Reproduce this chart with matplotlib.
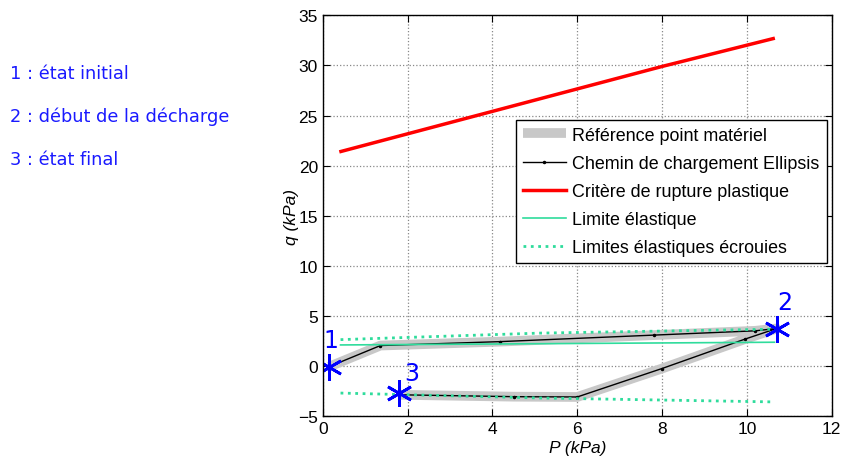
import matplotlib
matplotlib.use('Agg')
import matplotlib.pyplot as plt
import numpy             as np

# ------------------------------------------------------------------------------
# values
path_p      = [0.15, 1.36, 4.17, 7.8, 10.2, 10.7, 9.96, 8.0,  6.0,   4.5,   1.79]
path_q      = [-0.05, 2.06, 2.45, 3.1, 3.53, 3.76, 2.71, -0.23, -3.07, -3.04, -2.85]

crit_p      = [0.43,  4.0,   8.0,   10.62]
crit_q      = [21.42, 25.42, 29.9,  32.68]

elas_p      = [0.42, 10.65]
elas_q      = [2.12, 2.39]

upper_p     = [0.42, 5.1,  10.6]
upper_q     = [2.65, 3.3,  3.69]
lower_p     = [0.42, 5.1,  10.6]
lower_q     = [-2.68, -3.17, -3.56]

state_p     = [0.15, 10.7, 1.79]
state_q     = [-0.05, 3.76, -2.68]
state_names = ['1', '2', '3']

notes       = ['1 : état initial',
               '2 : début de la décharge',
               '3 : état final']

legend_txt  = ['Référence point matériel',
               'Chemin de chargement Ellipsis',
               'Critère de rupture plastique',
               'Limite élastique',
               'Limites élastiques écrouies']

BLUE  = '#1a1aff'
GREEN = '#2fdc9c'


# ------------------------------------------------------------------------------
#
def main():

    plt.rcParams['font.family'] = ['Liberation Sans', 'DejaVu Sans']

    fig = plt.figure(figsize=(8.42, 4.64), dpi=100)
    ax  = fig.add_axes([0.3833, 0.1006, 0.6045, 0.8642])

    ax.plot(path_p, path_q, '-', color='#c8c8c8', lw=7, solid_joinstyle='round',
            solid_capstyle='butt', label=legend_txt[0])
    ax.plot(path_p, path_q, '-', color='black', lw=1, marker='.', ms=3,
            label=legend_txt[1])
    ax.plot(crit_p, crit_q, '-', color='red', lw=2.5, label=legend_txt[2])
    ax.plot(elas_p, elas_q, '-', color=GREEN, lw=1.2, label=legend_txt[3])
    ax.plot(upper_p, upper_q, ':', color=GREEN, lw=2, label=legend_txt[4])
    ax.plot(lower_p, lower_q, ':', color=GREEN, lw=2)

    ax.plot(state_p, state_q, ls='none', marker=(6, 2, 0), ms=19, mew=2,
            color='blue')
    offs = [(0.04, 1.5), (0.2, 1.4), (0.3, 0.85)]
    for p, q, name, (dx, dy) in zip(state_p, state_q, state_names, offs):
        ax.text(p + dx, q + dy, name, color='blue', fontsize=17,
                family='DejaVu Sans', ha='center', va='bottom')

    ax.set_xlim(0, 12)
    ax.set_ylim(-5, 35)
    ax.set_xticks(np.arange(0, 13, 2))
    ax.set_yticks(np.arange(-5, 36, 5))
    ax.tick_params(direction='in', top=True, right=True, labelsize=12.5,
                   length=5)
    ax.grid(True, linestyle=':', color='#888888', lw=0.9)
    for s in ax.spines.values():
        s.set_linewidth(1)

    ax.set_xlabel('P (kPa)', fontsize=12.5, style='italic', labelpad=3)
    ax.set_ylabel('q (kPa)', fontsize=12.5, style='italic', labelpad=-1)

    leg = ax.legend(loc='upper right', bbox_to_anchor=(0.99, 0.74),
                    fontsize=12.9, fancybox=False, framealpha=1,
                    edgecolor='black', borderpad=0.4, labelspacing=0.62,
                    handlelength=2.4, handletextpad=0.35, borderaxespad=0)
    leg.get_frame().set_linewidth(1)

    for i, txt in enumerate(notes):
        fig.text(0.012, 1 - (74 + 43 * i) / 464.0, txt, color=BLUE,
                 fontsize=12.8, family='DejaVu Sans', va='center')

    fig.savefig('out.png', dpi=100)


# ------------------------------------------------------------------------------
#
if __name__ == '__main__':

    main()

# ------------------------------------------------------------------------------
